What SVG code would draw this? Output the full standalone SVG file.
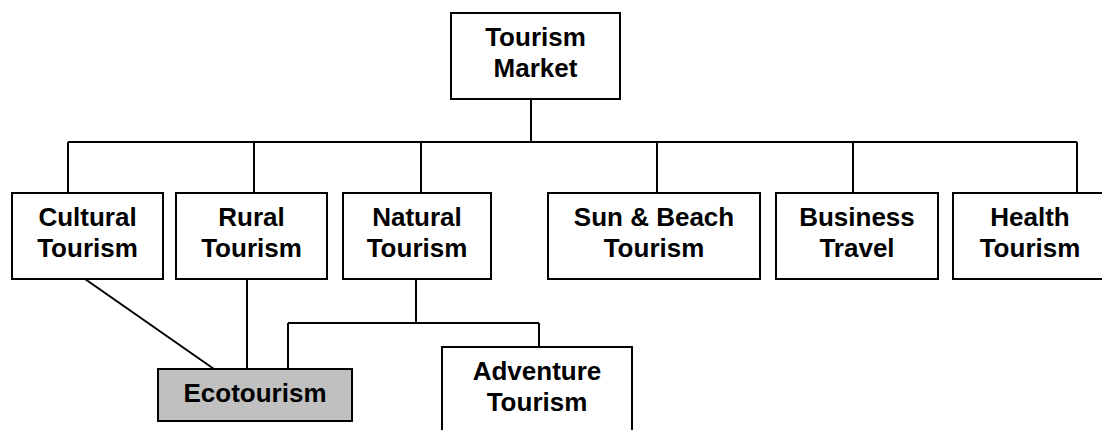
<svg xmlns="http://www.w3.org/2000/svg" width="1102" height="430" viewBox="0 0 1102 430">
<style>
.box{fill:#ffffff;stroke:#000;stroke-width:2}
.eco{fill:#c0c0c0;stroke:#000;stroke-width:2}
.t{font-family:"Liberation Sans",Arial,sans-serif;font-weight:bold;font-size:26px;fill:#000;text-anchor:middle}
.c{fill:none;stroke:#000;stroke-width:2}
</style>
<rect width="1102" height="430" fill="#ffffff"/>
<g id="connectors">
<path class="c" d="M531 99V142M68 142H1077M68 142V193M254 142V193M421 142V193M657 142V193M853 142V193M1077 142V193"/>
<path class="c" d="M416 279V323M288 323H539M288 323V369M539 323V347M247 279V369M85 279L214 369"/>
</g>
<g id="tourism-market"><rect class="box" x="451" y="13" width="169" height="86"/><text class="t" x="535.5" y="46">Tourism</text><text class="t" x="535.5" y="77">Market</text></g>
<g id="cultural"><rect class="box" x="12" y="193" width="151" height="86"/><text class="t" x="87.5" y="226">Cultural</text><text class="t" x="87.5" y="257">Tourism</text></g>
<g id="rural"><rect class="box" x="176" y="193" width="151" height="86"/><text class="t" x="251.5" y="226">Rural</text><text class="t" x="251.5" y="257">Tourism</text></g>
<g id="natural"><rect class="box" x="343" y="193" width="148" height="86"/><text class="t" x="417" y="226">Natural</text><text class="t" x="417" y="257">Tourism</text></g>
<g id="sunbeach"><rect class="box" x="548" y="193" width="212" height="86"/><text class="t" x="654" y="226">Sun &amp; Beach</text><text class="t" x="654" y="257">Tourism</text></g>
<g id="business"><rect class="box" x="776" y="193" width="162" height="86"/><text class="t" x="857" y="226">Business</text><text class="t" x="857" y="257">Travel</text></g>
<g id="health"><rect class="box" x="953" y="193" width="154" height="86"/><text class="t" x="1030" y="226">Health</text><text class="t" x="1030" y="257">Tourism</text></g>
<g id="ecotourism"><rect class="eco" x="158" y="369" width="194" height="52"/><text class="t" x="255" y="402">Ecotourism</text></g>
<g id="adventure"><rect class="box" x="442" y="347" width="190" height="90"/><text class="t" x="537" y="380">Adventure</text><text class="t" x="537" y="411">Tourism</text></g>
</svg>
